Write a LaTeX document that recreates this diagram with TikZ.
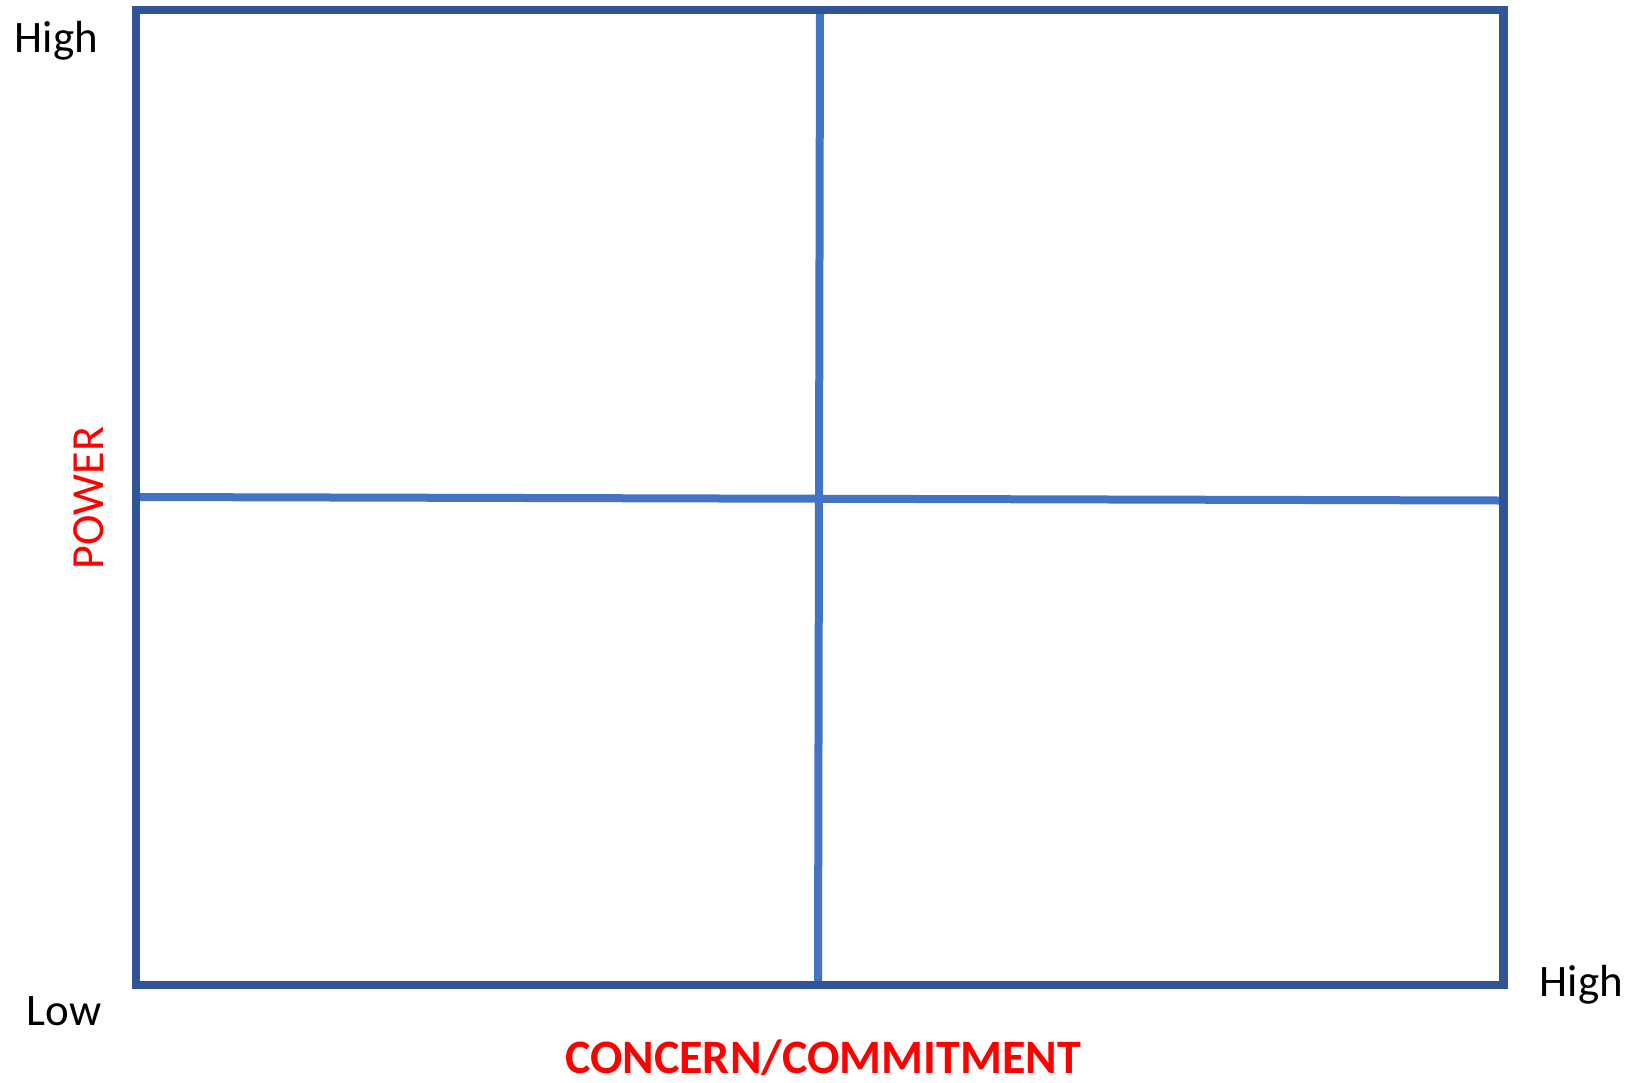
\documentclass[tikz,border=0pt]{standalone}
\usepackage{fontspec}
\setmainfont{Carlito}
\definecolor{frameblue}{HTML}{2F5597}
\definecolor{divblue}{HTML}{4472C4}
\definecolor{axisred}{HTML}{FF0000}
\tikzset{
  frame/.style={draw=frameblue, line width=8.5pt, line join=miter},
  divider/.style={draw=divblue, line width=8pt},
  tick/.style={inner sep=0pt, anchor=base, font=\fontsize{45}{54}\selectfont, text=black},
  axislabel/.style={inner sep=0pt, anchor=base, text=axisred}
}
\begin{document}
\begin{tikzpicture}[x=1pt,y=-1pt]
\useasboundingbox (0,0) rectangle (1633,1082);
\coordinate (tl) at (136,10);
\coordinate (br) at (1503.5,985);
\coordinate (vt) at (820,12);
\coordinate (vb) at (818,982);
\coordinate (hl) at (139,497);
\coordinate (hr) at (1500,500.5);
\draw[divider] (vt) -- (vb);
\draw[divider] (hl) -- (hr);
\draw[frame] (tl) rectangle (br);
\node[tick] (highy) at (56.5,52) {High};
\node[tick] (lowx) at (64,1025) {Low};
\node[tick] (highx) at (1581.5,996.5) {High};
\node[axislabel, font=\fontsize{48}{58}\selectfont\bfseries] (xlab) at (823,1073) {CONCERN/COMMITMENT};
\node[axislabel, font=\fontsize{46}{55}\selectfont, rotate=90] (ylab) at (103.5,498) {POWER};
\end{tikzpicture}
\end{document}
